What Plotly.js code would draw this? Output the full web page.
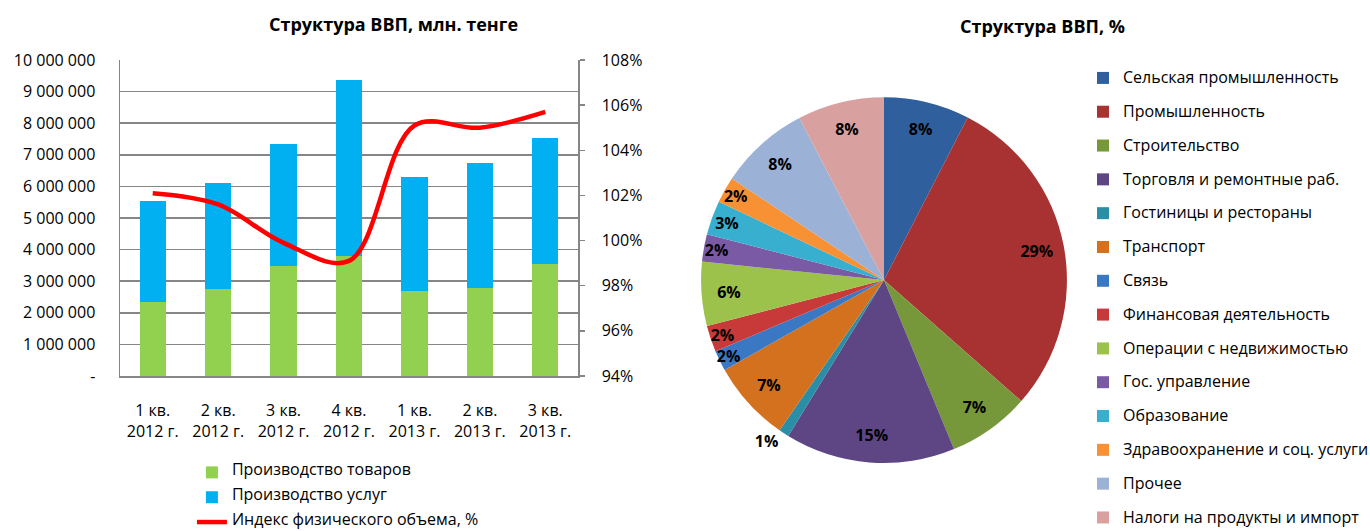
<!DOCTYPE html>
<html><head><meta charset="utf-8">
<script src="https://cdn.plot.ly/plotly-3.0.1.min.js"></script>
<style>html,body{margin:0;padding:0;background:#fff}#chart{width:1370px;height:531px}</style>
</head><body><div id="chart"></div>
<script>
// ---- data ----
const quarters = ['1 кв.<br>2012 г.', '2 кв.<br>2012 г.', '3 кв.<br>2012 г.', '4 кв.<br>2012 г.', '1 кв.<br>2013 г.', '2 кв.<br>2013 г.', '3 кв.<br>2013 г.'];
const goods = [2354000, 2747000, 3489000, 3807000, 2704000, 2800000, 3531000];
const services = [3181000, 3351000, 3860000, 5567000, 3606000, 3934000, 3998000];
const volumeIndex = [102.1, 101.6, 99.9, 99.1, 105.1, 105.0, 105.7];
const seriesNames = ['Производство товаров', 'Производство услуг', 'Индекс физического объема, %'];
const leftTickVals = [0, 1000000, 2000000, 3000000, 4000000, 5000000, 6000000, 7000000, 8000000, 9000000, 10000000];
const leftTickText = ['-', '1 000 000', '2 000 000', '3 000 000', '4 000 000', '5 000 000', '6 000 000', '7 000 000', '8 000 000', '9 000 000', '10 000 000'];
const rightTickVals = [94, 96, 98, 100, 102, 104, 106, 108];
const rightTickText = ['94%', '96%', '98%', '100%', '102%', '104%', '106%', '108%'];
const sectors = ['Сельская промышленность', 'Промышленность', 'Строительство', 'Торговля и ремонтные раб.', 'Гостиницы и рестораны', 'Транспорт', 'Связь', 'Финансовая деятельность', 'Операции с недвижимостью', 'Гос. управление', 'Образование', 'Здравоохранение и соц. услуги', 'Прочее', 'Налоги на продукты и импорт'];
const shares = [7.5, 28.7, 7.2, 14.9, 0.9, 7.1, 1.8, 2.3, 5.6, 2.4, 3.0, 2.3, 7.9, 7.6];
const titles = ['Структура ВВП, млн. тенге', 'Структура ВВП, %'];

// ---- styles ----
const FONT = 'Open Sans, Noto Sans, sans-serif';
const sliceColors = ['#2F5F9C', '#A83232', '#77973B', '#5E4685', '#2A8EA6', '#D4711F', '#3A78C4', '#C83A3A', '#9CC24B', '#7A5AA5', '#38AFCF', '#F79133', '#9CB1D6', '#D9A0A0'];
const lgText = s => '<span style="font-size:16px;baseline-shift:4px">' + s + '</span>';
const pieDomain = {x: [0.5117, 0.7788], y: [0.128, 0.817]};

const traces = [
  {type: 'bar', x: quarters, y: goods, name: lgText(seriesNames[0]), marker: {color: '#92D050'}, width: 0.4, legend: 'legend', hoverinfo: 'y'},
  {type: 'bar', x: quarters, y: services, name: lgText(seriesNames[1]), marker: {color: '#00B0F0'}, width: 0.4, legend: 'legend', hoverinfo: 'y'},
  {type: 'scatter', mode: 'lines', x: quarters, y: volumeIndex, yaxis: 'y2', name: lgText(seriesNames[2]),
   line: {color: '#FF0000', width: 4.5, shape: 'spline', smoothing: 1}, legend: 'legend', hoverinfo: 'y'},
  // coloured slices
  {type: 'pie', labels: sectors.map(lgText), values: shares, sort: false, direction: 'clockwise', rotation: 0,
   domain: pieDomain, marker: {colors: sliceColors, line: {width: 0}},
   textinfo: 'none', legend: 'legend2', hoverinfo: 'label+percent', showlegend: true},
  // same data as a transparent ring, carrying the percentage labels near the rim
  {type: 'pie', labels: sectors.map(lgText), values: shares, sort: false, direction: 'clockwise', rotation: 0,
   domain: pieDomain, hole: 0.7, marker: {colors: sectors.map(() => 'rgba(0,0,0,0)'), line: {width: 0}},
   texttemplate: '%{percent:.0%}', textinfo: 'percent',
   textposition: shares.map(v => v < 1.5 ? 'outside' : 'inside'),
   insidetextorientation: 'horizontal',
   textfont: {family: FONT, size: 16, color: '#000000', weight: 'bold'},
   showlegend: false, hoverinfo: 'skip', legend: 'legend2'}
];

const layout = {
  width: 1370, height: 531,
  margin: {l: 0, r: 0, t: 0, b: 0, autoexpand: false},
  paper_bgcolor: '#ffffff', plot_bgcolor: '#ffffff',
  font: {family: FONT, size: 16, color: '#000000'},
  barmode: 'stack',
  showlegend: true,
  uniformtext: {mode: 'show', minsize: 16},
  xaxis: {domain: [0.0876, 0.4219], type: 'category', showgrid: false, showline: true, linecolor: '#868686', linewidth: 1.5,
          ticks: '', tickfont: {size: 16}, ticklabelstandoff: 19, fixedrange: true},
  yaxis: {domain: [0.2919, 0.887], range: [0, 10000000], tickvals: leftTickVals, ticktext: leftTickText,
          showgrid: true, gridcolor: '#868686', gridwidth: 1.5, showline: true, linecolor: '#868686', linewidth: 1.5,
          zeroline: false, ticks: '', tickfont: {size: 16}, ticklabelstandoff: 20, fixedrange: true},
  yaxis2: {overlaying: 'y', side: 'right', range: [94, 108], tickvals: rightTickVals, ticktext: rightTickText,
           showgrid: false, showline: true, linecolor: '#868686', linewidth: 1.5, zeroline: false,
           ticks: 'outside', ticklen: 5, tickcolor: '#868686', tickwidth: 1.5, tickfont: {size: 16}, ticklabelstandoff: 14, fixedrange: true},
  legend: {x: 0.1401, y: 0.1432, xanchor: 'left', yanchor: 'top', orientation: 'v', traceorder: 'normal',
           font: {size: 16.8, family: FONT}, bgcolor: 'rgba(0,0,0,0)', borderwidth: 0},
  legend2: {x: 0.7905, y: 0.8945, xanchor: 'left', yanchor: 'top', orientation: 'v', traceorder: 'normal',
            font: {size: 23.7, family: FONT}, bgcolor: 'rgba(0,0,0,0)', borderwidth: 0},
  annotations: [
    {text: '<b>' + titles[0] + '</b>', xref: 'paper', yref: 'paper', x: 0.2869, y: 0.9548, xanchor: 'center', yanchor: 'middle', showarrow: false, font: {size: 18}},
    {text: '<b>' + titles[1] + '</b>', xref: 'paper', yref: 'paper', x: 0.7613, y: 0.951, xanchor: 'center', yanchor: 'middle', showarrow: false, font: {size: 18}}
  ]
};

Plotly.newPlot('chart', traces, layout, {displayModeBar: false, staticPlot: true});
</script>
</body></html>
